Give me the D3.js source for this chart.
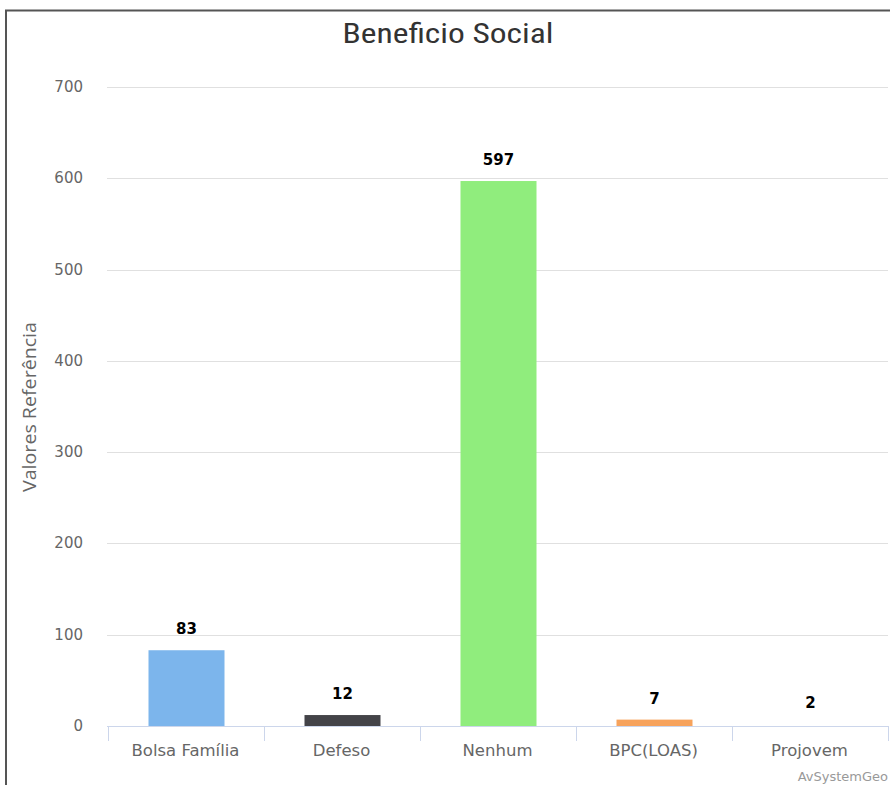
<!DOCTYPE html>
<html><head><meta charset="utf-8">
<script src="https://cdn.jsdelivr.net/npm/d3@7"></script>
<style>body{margin:0;background:#fff;}svg{display:block;font-family:"DejaVu Sans",sans-serif;}</style>
</head><body>
<svg id="c" width="890" height="785"></svg>
<script>
const categories = ["Bolsa Família","Defeso","Nenhum","BPC(LOAS)","Projovem"];
const values = [83,12,597,7,2];
const colors = ["#7cb5ec","#434348","#90ed7d","#f7a35c","#ffffff"];
const yTicks = [0,100,200,300,400,500,600,700];

const svg = d3.select("#c");
// frame
svg.append("path").attr("d","M6,785 V10.5 H890").attr("fill","none").attr("stroke","#555").attr("stroke-width",2);

const x = d3.scaleBand().domain(categories).range([107.5,887.5]).paddingInner(0).paddingOuter(0);
const y = d3.scaleLinear().domain([0,700]).range([726,87]);

// grid
svg.append("g").selectAll("line").data(yTicks.filter(d=>d>0)).join("line")
  .attr("x1",107).attr("x2",888).attr("y1",d=>Math.round(y(d))+0.5).attr("y2",d=>Math.round(y(d))+0.5)
  .attr("stroke","#e0e0e0").attr("stroke-width",1);

// y labels
svg.append("g").selectAll("text").data(yTicks).join("text")
  .attr("x",83).attr("y",d=>y(d)+5).attr("text-anchor","end")
  .attr("fill","#666").attr("font-size",15).text(d=>d);

// y title
svg.append("text").attr("transform","translate(36,407) rotate(-90)").attr("text-anchor","middle")
  .attr("fill","#666").attr("font-size",19).attr("font-family","'Open Sans',sans-serif")
  .attr("textLength",170).attr("lengthAdjust","spacingAndGlyphs").text("Valores Referência");

// bars
const bw = 76;
svg.append("g").selectAll("rect").data(values).join("rect")
  .attr("x",(d,i)=>x(categories[i])+x.bandwidth()/2-bw/2+1).attr("width",bw)
  .attr("y",d=>y(d)).attr("height",d=>y(0)-y(d)).attr("fill",(d,i)=>colors[i]);

// x axis
const xa = svg.append("g");
xa.append("line").attr("x1",107).attr("x2",888).attr("y1",726.5).attr("y2",726.5).attr("stroke","#ccd6eb");
const tickPos = categories.map(c=>x(c)).concat([x(categories[categories.length-1])+x.bandwidth()]);
xa.selectAll("line.t").data(tickPos).join("line").attr("class","t")
  .attr("x1",d=>Math.round(d)+0.5).attr("x2",d=>Math.round(d)+0.5).attr("y1",726).attr("y2",741).attr("stroke","#ccd6eb");
xa.selectAll("text").data(categories).join("text")
  .attr("x",d=>x(d)+x.bandwidth()/2).attr("y",756).attr("text-anchor","middle")
  .attr("fill","#666").attr("font-size",16.5).text(d=>d);

// data labels
svg.append("g").selectAll("text").data(values).join("text")
  .attr("x",(d,i)=>x(categories[i])+x.bandwidth()/2+1).attr("y",d=>y(d)-16)
  .attr("text-anchor","middle").attr("font-size",15).attr("font-weight","bold")
  .attr("fill","#000").attr("stroke","#fff").attr("stroke-width",2).attr("paint-order","stroke")
  .text(d=>d);

// title
svg.append("text").attr("x",448).attr("y",43).attr("text-anchor","middle")
  .attr("fill","#333").attr("font-size",28).attr("font-family","'Liberation Sans Narrow','Roboto Condensed','Liberation Sans',sans-serif")
  .attr("textLength",211).attr("lengthAdjust","spacingAndGlyphs")
  .text("Beneficio Social");

// credits
svg.append("text").attr("x",888).attr("y",781).attr("text-anchor","end")
  .attr("fill","#999").attr("font-size",13).text("AvSystemGeo");
</script>
</body></html>
